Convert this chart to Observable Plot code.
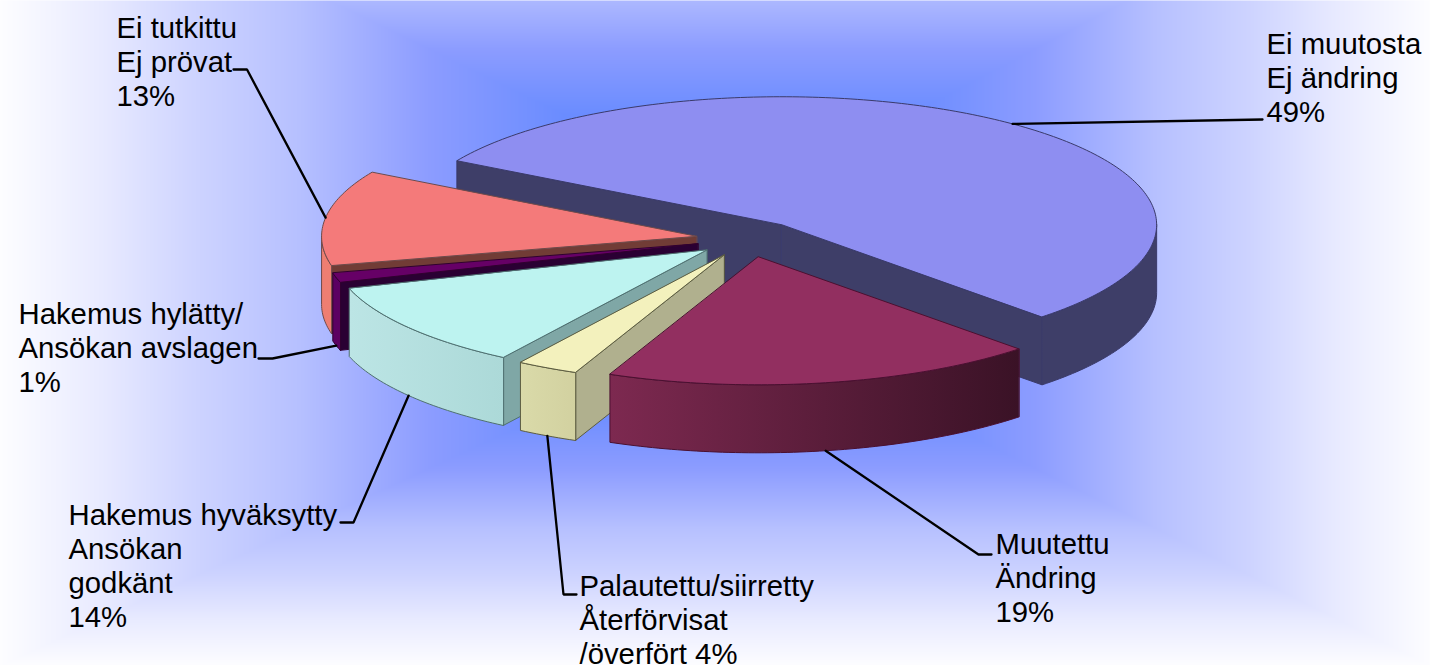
<!DOCTYPE html>
<html><head><meta charset="utf-8">
<style>html,body{margin:0;padding:0;background:#fff;overflow:hidden}svg{display:block}</style>
<script src="https://cdn.jsdelivr.net/npm/d3@7"></script>
<script src="https://cdn.jsdelivr.net/npm/@observablehq/plot@0.6"></script>
</head><body><div id="chart"></div>
<script>
// ---- data ----
const labels = ["Ei muutosta\nEj ändring", "Muutettu\nÄndring", "Palautettu/siirretty\nÅterförvisat\n/överfört", "Hakemus hyväksytty\nAnsökan\ngodkänt", "Hakemus hylätty/\nAnsökan avslagen", "Ei tutkittu\nEj prövat"];
const printedPercent = [49, 19, 4, 14, 1, 13];
// share of the rim each slice occupies as drawn (the 3D view distorts the printed shares)
const drawnShare = [54.45, 18.7, 2.65, 11.0, 1.2, 12.0];

// ---- styles ----
const topColor  = ["#8e8ef1", "#922f60", "#f3f1bd", "#bdf3f0", "#660066", "#f47a7a"];
const cutColor  = ["#3e3e68", "#3e3e68", "#b0b08e", "#7fa7a6", "#2a0033", "#713c36"];
const wallFrom  = ["#3e3e68", "#7d2950", "#dadaa9", "#bce5e5", "#5c0062", "#ee7e72"];
const wallTo    = ["#3e3e68", "#3a1226", "#d2d1a0", "#acd9d8", "#5c0062", "#ee7e72"];
const edgeColor = ["#3a3a6a", "#4a1030", "#5c5c40", "#4f7070", "#300030", "#6e4a4a"];
const paintOrder = [0, 5, 4, 3, 2, 1];

// ---- layout ----
const W = 1430, H = 665;
const centre = [748.5, 238.5], rx = 375, ry = 128, depth = 68, explode = 53, firstAngle = 300;
const labelAt = [[1266, 77], [995, 577], [579, 619], [68, 565], [18, 347], [116, 61]];
const leaderVia = [
  [[1262, 119]],
  [[978, 554], [991, 554]],
  [[563, 594], [576, 594]],
  [[353, 522], [340, 522]],
  [[272, 358], [258, 358]],
  [[246.5, 69], [233, 69]]
];

const rad = d => d * Math.PI / 180;
const dir = t => [Math.sin(rad(t)), -Math.cos(rad(t))];
let acc = firstAngle;
const slices = drawnShare.map((s, i) => {
  const t0 = acc, t1 = acc + s * 3.6; acc = t1;
  const mid = (t0 + t1) / 2, [mx, my] = dir(mid);
  const apex = [centre[0] + explode * mx, centre[1] + explode * my * ry / rx];
  const rim = t => { const [a, b] = dir(t); return [apex[0] + rx * a, apex[1] + ry * b]; };
  return {i, t0, t1, mid, apex, rim};
});
const down = ([x, y]) => [x, y + depth];
const arc = (s, a, b) => { const n = Math.max(2, Math.ceil(b - a)); return d3.range(n + 1).map(k => s.rim(a + (b - a) * k / n)); };

const poly = (pts, fill, stroke) => Plot.line(pts, {x: d => d[0], y: d => d[1], curve: "linear-closed", fill, stroke, strokeWidth: 1, strokeLinejoin: "round"});

const pieMarks = [];
for (const i of paintOrder) {
  const s = slices[i];
  // cut faces
  if (Math.sin(rad(s.t0)) < 0) pieMarks.push(poly([s.apex, s.rim(s.t0), down(s.rim(s.t0)), down(s.apex)], cutColor[i], edgeColor[i]));
  if (Math.sin(rad(s.t1)) > 0) pieMarks.push(poly([s.apex, s.rim(s.t1), down(s.rim(s.t1)), down(s.apex)], cutColor[i], edgeColor[i]));
  // outer wall, only where it faces the viewer
  for (const [lo, hi] of [[90, 270], [450, 630]]) {
    const a = Math.max(s.t0, lo), b = Math.min(s.t1, hi);
    if (b > a) {
      const top = arc(s, a, b);
      pieMarks.push(poly([...top, ...top.slice().reverse().map(down)], `url(#wall${i})`, edgeColor[i]));
    }
  }
  // top face
  pieMarks.push(poly([s.apex, ...arc(s, s.t0, s.t1)], topColor[i], edgeColor[i]));
}

// leaders start on the rim at the middle of each slice
const leaders = slices.map(s => {
  const p = s.rim(s.mid), front = Math.cos(rad(s.mid)) < 0;
  const start = front ? down(p) : p;
  return [start, ...leaderVia[s.i]];
});
const leaderMarks = leaders.map(pts => Plot.line(pts, {x: d => d[0], y: d => d[1], stroke: "#000", strokeWidth: 2.3, strokeLinejoin: "miter"}));

const labelRows = labels.map((l, i) => ({
  text: i === 2 ? `${l} ${printedPercent[i]}%` : `${l}\n${printedPercent[i]}%`,
  x: labelAt[i][0], y: labelAt[i][1]
}));

// box-shaped background gradient around an inner rectangle
const inner = {left: 565, right: 909, top: 115, bottom: 405};
const bgValue = (x, y) => Math.min(1, Math.max(0,
  (inner.left - x) / inner.left,
  (x - inner.right) / (W - inner.right),
  (inner.top - y) / 274,
  (y - inner.bottom) / (H - inner.bottom)));

const defs = () => {
  const ns = "http://www.w3.org/2000/svg";
  const d = document.createElementNS(ns, "defs");
  wallFrom.forEach((c, i) => {
    const g = document.createElementNS(ns, "linearGradient");
    g.setAttribute("id", `wall${i}`);
    [[0, c], [1, wallTo[i]]].forEach(([o, col]) => {
      const st = document.createElementNS(ns, "stop");
      st.setAttribute("offset", o); st.setAttribute("stop-color", col);
      g.appendChild(st);
    });
    d.appendChild(g);
  });
  return d;
};

const chart = Plot.plot({
  width: W, height: H, margin: 0,
  x: {domain: [0, W], range: [0, W], axis: null},
  y: {domain: [0, H], range: [0, H], axis: null},
  color: {type: "linear", domain: [0, .24, .47, .65, .82, 1], range: ["#6a8cff", "#8c9cff", "#b6c0ff", "#cdd3ff", "#e8eaff", "#fdfdff"]},
  style: {background: "#fff"},
  marks: [
    Plot.raster({fill: bgValue, x1: 0, y1: 0, x2: W, y2: H, pixelSize: 1}),
    defs,
    ...pieMarks,
    ...leaderMarks,
    Plot.text(labelRows, {x: "x", y: "y", text: "text", textAnchor: "start", lineAnchor: "middle", lineHeight: 34 / 29.3, fontSize: 29.3, fontFamily: "Liberation Sans", fill: "#000"})
  ]
});
document.getElementById("chart").appendChild(chart);
</script></body></html>
